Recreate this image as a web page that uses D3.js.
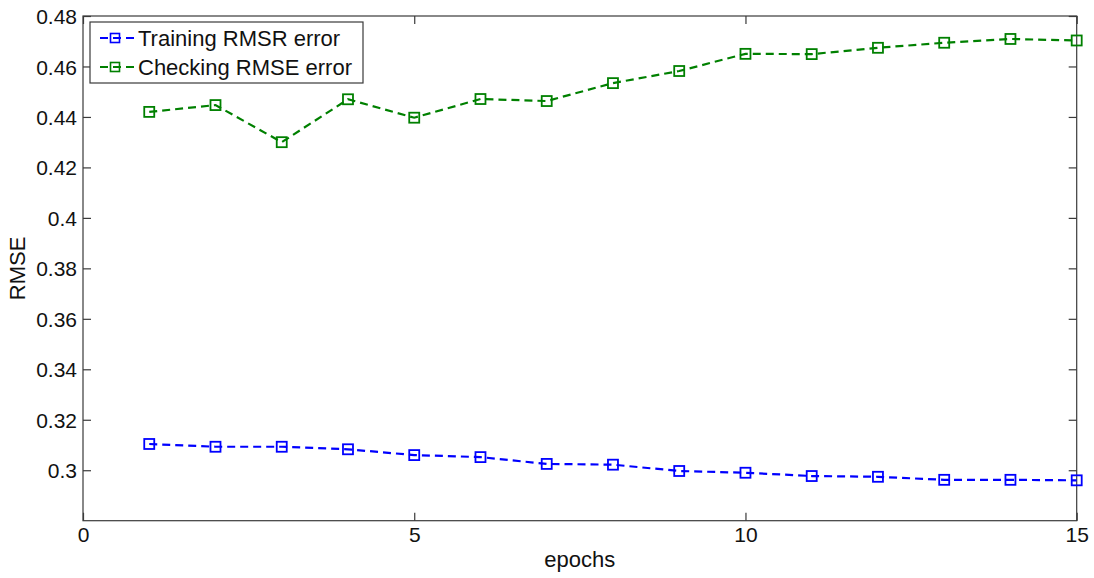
<!DOCTYPE html>
<html>
<head>
<meta charset="utf-8">
<script src="https://cdn.jsdelivr.net/npm/d3@7"></script>
<style>
  html, body { margin: 0; padding: 0; background: #fff; }
  svg { display: block; font-family: "Liberation Sans", Arial, sans-serif; }
</style>
</head>
<body>
<svg id="chart" width="1094" height="578"></svg>
<script>
const epochs = [1,2,3,4,5,6,7,8,9,10,11,12,13,14,15];
const trainingRMSE = [0.3104,0.3093,0.3093,0.3083,0.3060,0.3052,0.3025,0.3022,0.2997,0.2990,0.2977,0.2974,0.2962,0.2962,0.2960];
const checkingRMSE = [0.4420,0.4447,0.4300,0.4470,0.4397,0.4471,0.4463,0.4534,0.4582,0.4650,0.4649,0.4674,0.4694,0.4709,0.4703];
const seriesNames = ["Training RMSR error", "Checking RMSE error"];
const seriesColors = ["#0000ff", "#008000"];
const xTicks = [0,5,10,15];
const yTicks = [0.30,0.32,0.34,0.36,0.38,0.40,0.42,0.44,0.46,0.48];
const xLabel = "epochs";
const yLabel = "RMSE";

const svg = d3.select("#chart");
const L = 83, R = 1076.7, T = 16, B = 520.7;
const x = d3.scaleLinear().domain([0, 15]).range([L, R]);
const y = d3.scaleLinear().domain([0.28, 0.48]).range([B, T]);
const axisColor = "#3a3a3a";
const tickLen = 8;
const fmt = d => String(+d.toFixed(2));

// box
svg.append("rect").attr("x", L).attr("y", T).attr("width", R - L).attr("height", B - T)
  .attr("fill", "none").attr("stroke", axisColor).attr("stroke-width", 1.2);

// axes with inward ticks
const gxB = svg.append("g").attr("transform", `translate(0,${B})`)
  .call(d3.axisBottom(x).tickValues(xTicks).tickSize(-tickLen).tickPadding(6).tickFormat(d3.format("d")));
const gxT = svg.append("g").attr("transform", `translate(0,${T})`)
  .call(d3.axisTop(x).tickValues(xTicks).tickSize(-tickLen).tickFormat(""));
const gyL = svg.append("g").attr("transform", `translate(${L},0)`)
  .call(d3.axisLeft(y).tickValues(yTicks).tickSize(-tickLen).tickPadding(6).tickFormat(fmt));
const gyR = svg.append("g").attr("transform", `translate(${R},0)`)
  .call(d3.axisRight(y).tickValues(yTicks).tickSize(-tickLen).tickFormat(""));
[gxB, gxT, gyL, gyR].forEach(g => {
  g.select(".domain").remove();
  g.selectAll(".tick line").attr("stroke", axisColor).attr("stroke-width", 1.2);
  g.selectAll(".tick text").attr("fill", "#111").attr("font-size", 21)
    .attr("font-family", "Liberation Sans, Arial, sans-serif");
});
gyL.selectAll(".tick text").attr("dy", "0.36em");

// axis labels
svg.append("text").attr("x", (L + R) / 2).attr("y", 567).attr("text-anchor", "middle")
  .attr("font-size", 22).attr("fill", "#111").text(xLabel);
svg.append("text").attr("transform", `translate(25,${(T + B) / 2}) rotate(-90)`)
  .attr("text-anchor", "middle").attr("font-size", 22).attr("fill", "#111").text(yLabel);

// series
const line = d3.line().x(d => x(d[0])).y(d => y(d[1]));
const allSeries = [trainingRMSE, checkingRMSE];
const ms = 10;
allSeries.forEach((vals, i) => {
  const pts = epochs.map((e, j) => [e, vals[j]]);
  svg.append("path").datum(pts).attr("d", line).attr("fill", "none")
    .attr("stroke", seriesColors[i]).attr("stroke-width", 2.2).attr("stroke-dasharray", "8,5");
  svg.append("g").selectAll("rect").data(pts).join("rect")
    .attr("x", d => x(d[0]) - ms / 2).attr("y", d => y(d[1]) - ms / 2)
    .attr("width", ms).attr("height", ms)
    .attr("fill", "none").attr("stroke", seriesColors[i]).attr("stroke-width", 1.8);
});

// legend
const lg = svg.append("g");
lg.append("rect").attr("x", 90).attr("y", 22).attr("width", 273).attr("height", 61)
  .attr("fill", "#fff").attr("stroke", axisColor).attr("stroke-width", 1.2);
seriesNames.forEach((name, i) => {
  const cy = 38 + i * 29;
  lg.append("line").attr("x1", 100).attr("x2", 135).attr("y1", cy).attr("y2", cy)
    .attr("stroke", seriesColors[i]).attr("stroke-width", 2).attr("stroke-dasharray", "8,5");
  lg.append("rect").attr("x", 115 - 4.5).attr("y", cy - 4.5).attr("width", 9).attr("height", 9)
    .attr("fill", "none").attr("stroke", seriesColors[i]).attr("stroke-width", 1.6);
  lg.append("text").attr("x", 138).attr("y", cy).attr("dy", "0.36em")
    .attr("font-size", 22).attr("fill", "#111").text(name);
});
</script>
</body>
</html>
